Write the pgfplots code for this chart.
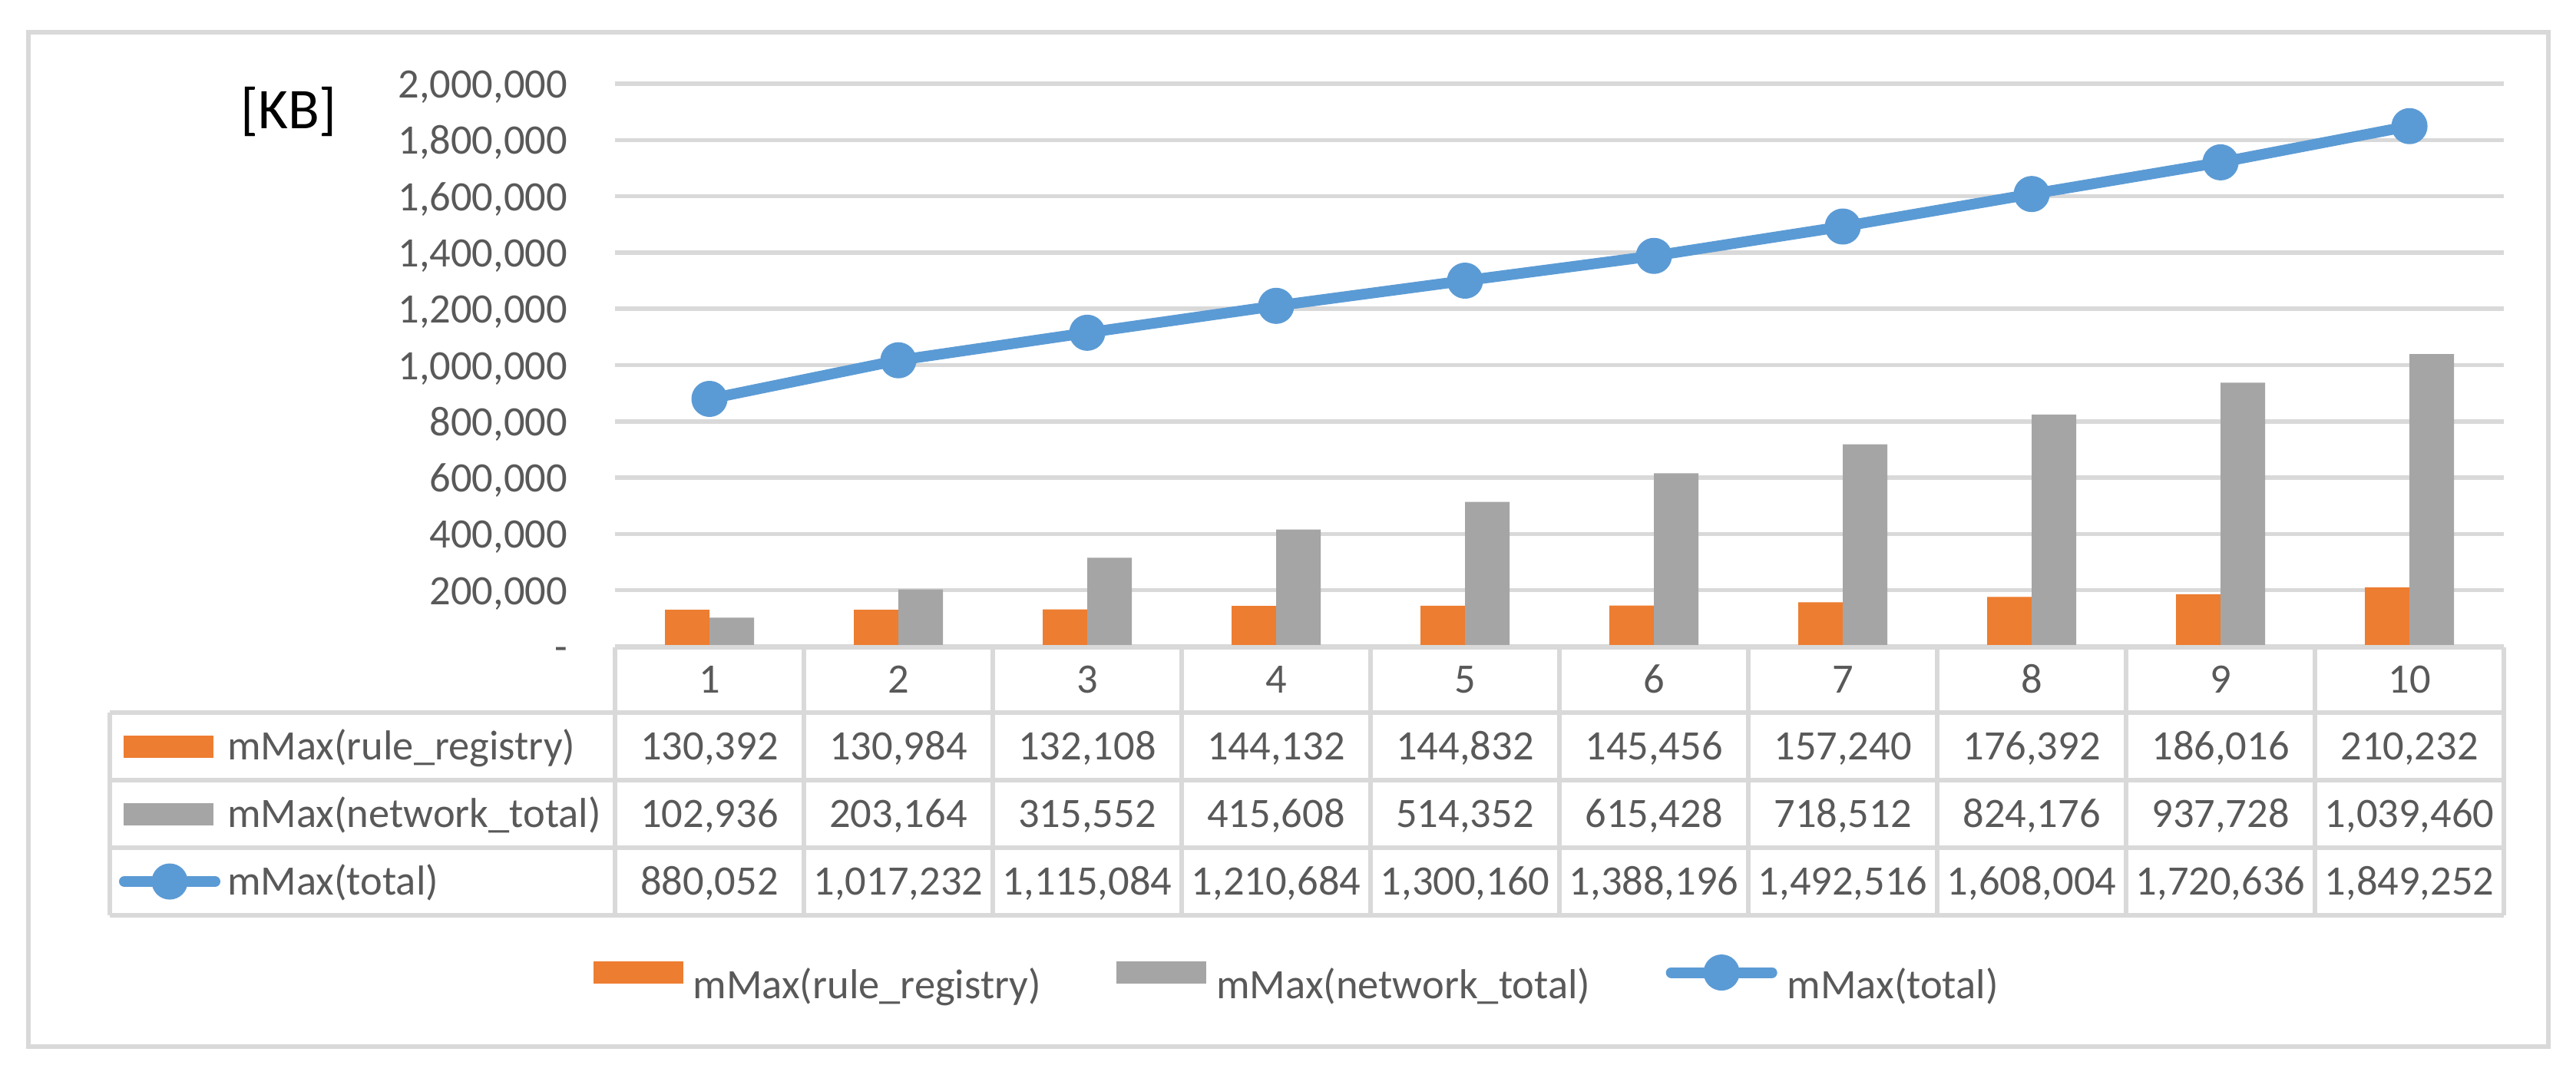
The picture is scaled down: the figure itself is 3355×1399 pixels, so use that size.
\documentclass[border=0pt]{standalone}
\usepackage{pgfplots}
\pgfplotsset{compat=1.18}
\usepackage{pgfplotstable}
\usepackage{fontspec}
\setmainfont{Carlito}
\definecolor{orangeS}{HTML}{ED7D31}
\definecolor{grayS}{HTML}{A5A5A5}
\definecolor{blueS}{HTML}{5B9BD5}
\definecolor{gridc}{HTML}{D9D9D9}
\definecolor{txt}{HTML}{595959}
\newcommand\cf{\fontsize{10.9}{13}\selectfont}

\pgfplotstableread{
x rr nt tot
1 130392 102936 880052
2 130984 203164 1017232
3 132108 315552 1115084
4 144132 415608 1210684
5 144832 514352 1300160
6 145456 615428 1388196
7 157240 718512 1492516
8 176392 824176 1608004
9 186016 937728 1720636
10 210232 1039460 1849252
}\data

\begin{document}
\begin{tikzpicture}[x=0.2pt,y=-0.2pt]
\useasboundingbox (0,0) rectangle (3355,1399);
\fill[white] (0,0) rectangle (3355,1399);
\draw[gridc, line width=1.1pt] (37,42) rectangle (3319,1363);
\node[anchor=base west, inner sep=0pt, font=\fontsize{15}{18}\selectfont] at (312,167) {[KB]};

\begin{axis}[
  at={(160.2pt,-168.4pt)}, anchor=south west,
  scale only axis, width=492pt, height=146.6pt,
  xmin=0.5, xmax=10.5, ymin=0, ymax=2000000,
  clip=false,
  axis line style={draw=none},
  major tick length=0pt,
  xtick={1,2,3,4,5,6,7,8,9,10},
  xticklabels={1,2,3,4,5,6,7,8,9,10},
  ytick={0,200000,400000,600000,800000,1000000,1200000,1400000,1600000,1800000,2000000},
  yticklabels={{-\hspace{5.5pt}},{200,000},{400,000},{600,000},{800,000},{1,000,000},{1,200,000},{1,400,000},{1,600,000},{1,800,000},{2,000,000}},
  scaled y ticks=false,
  ymajorgrids, grid style={gridc, line width=1.1pt},
  tick label style={font=\cf, text=txt, inner sep=0pt},
  yticklabel style={anchor=base east, xshift=-12.2pt, yshift=-3.7pt},
  xticklabel style={anchor=base, yshift=-12pt},
  legend style={at={(0.3604,-0.596)}, anchor=center, draw=none, fill=none,
    font=\cf, text=txt, legend columns=3,
    nodes={inner sep=0pt},
    /tikz/every even column/.append style={column sep=19.7pt},
    /tikz/every odd column/.append style={column sep=2.6pt}},
  legend cell align=left,
]
\addplot[ybar, bar width=11.6pt, bar shift=-5.8pt, fill=orangeS, draw=none,
  legend image code/.code={\fill[orangeS] (0pt,0.6pt) rectangle (23.4pt,6.4pt);}]
  table[x=x,y=rr]{\data};
\addlegendentry{mMax(rule\_registry)}
\addplot[ybar, bar width=11.6pt, bar shift=5.8pt, fill=grayS, draw=none,
  legend image code/.code={\fill[grayS] (0pt,0.6pt) rectangle (23.4pt,6.4pt);}]
  table[x=x,y=nt]{\data};
\addlegendentry{mMax(network\_total)}
\addplot[blueS, line width=2.8pt, line join=round, mark=*, mark size=3.3pt,
  mark options={fill=blueS, draw=none},
  legend image code/.code={\draw[blueS, line width=2.8pt, line cap=round, mark=*, mark size=3.3pt, mark options={fill=blueS, draw=none}, mark repeat=2, mark phase=2] plot coordinates {(0pt,3.5pt) (13.1pt,3.5pt) (26.2pt,3.5pt)};}]
  table[x=x,y=tot]{\data};
\addlegendentry{mMax(total)}
\end{axis}

% data table grid
\foreach \k in {0,...,10}{
  \draw[gridc, line width=1.1pt] ({801+246*\k},843) -- ({801+246*\k},1192);
}
\draw[gridc, line width=1.1pt] (801,843) -- (3261,843);
\foreach \yy in {928,1016,1104,1192}{
  \draw[gridc, line width=1.1pt] (143,\yy) -- (3261,\yy);
}
\draw[gridc, line width=1.1pt] (143,928) -- (143,1192);

% data table keys and names
\fill[orangeS] (161,958) rectangle (278,987);
\fill[grayS] (161,1046) rectangle (278,1075);
\draw[blueS, line width=2.8pt, line cap=round, mark=*, mark size=3.3pt,
  mark options={draw=none, fill=blueS}, mark repeat=2, mark phase=2]
  plot coordinates {(162,1148) (221,1148) (280,1148)};
\node[anchor=base west, inner sep=0pt, text=txt, font=\cf] at (295,989.5) {mMax(rule\_registry)};
\node[anchor=base west, inner sep=0pt, text=txt, font=\cf] at (295,1077.5) {mMax(network\_total)};
\node[anchor=base west, inner sep=0pt, text=txt, font=\cf] at (295,1165.5) {mMax(total)};

% data table values
\foreach \i in {0,...,9}{
  \pgfmathsetmacro{\cx}{801+246*(\i+0.5)}
  \pgfplotstablegetelem{\i}{rr}\of\data
  \node[anchor=base, inner sep=0pt, text=txt, font=\cf] at (\cx,989.5)
    {\pgfmathprintnumber[fixed,precision=0,1000 sep={,},assume math mode=true]{\pgfplotsretval}};
  \pgfplotstablegetelem{\i}{nt}\of\data
  \node[anchor=base, inner sep=0pt, text=txt, font=\cf] at (\cx,1077.5)
    {\pgfmathprintnumber[fixed,precision=0,1000 sep={,},assume math mode=true]{\pgfplotsretval}};
  \pgfplotstablegetelem{\i}{tot}\of\data
  \node[anchor=base, inner sep=0pt, text=txt, font=\cf] at (\cx,1165.5)
    {\pgfmathprintnumber[fixed,precision=0,1000 sep={,},assume math mode=true]{\pgfplotsretval}};
}
\end{tikzpicture}
\end{document}
